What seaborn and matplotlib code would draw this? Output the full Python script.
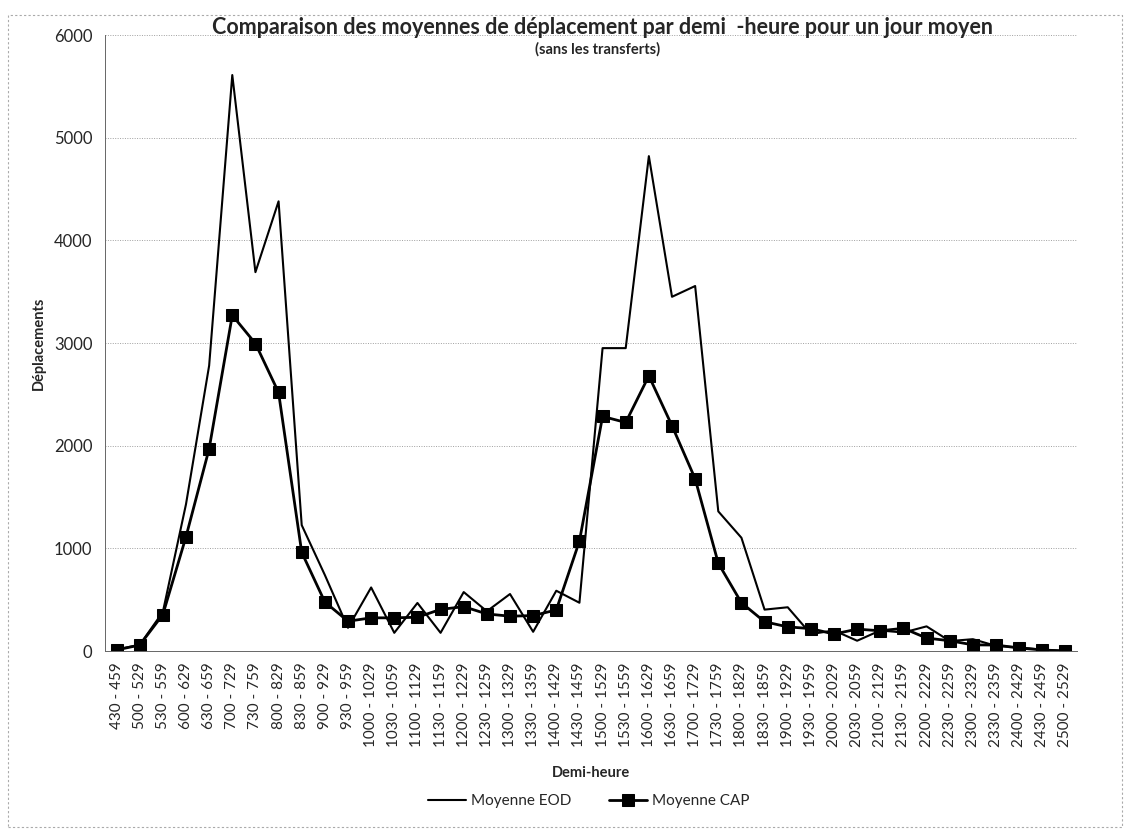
import numpy as np
import pandas as pd
import seaborn as sns
import matplotlib.pyplot as plt
from matplotlib.patches import Rectangle

# demi-heures (tranches)
starts = [430, 500, 530, 600, 630, 700, 730, 800, 830, 900, 930, 1000, 1030, 1100,
          1130, 1200, 1230, 1300, 1330, 1400, 1430, 1500, 1530, 1600, 1630, 1700,
          1730, 1800, 1830, 1900, 1930, 2000, 2030, 2100, 2130, 2200, 2230, 2300,
          2330, 2400, 2430, 2500]
labels = [f"{s} - {s + 29}" for s in starts]

moyenne_eod = [15, 60, 380, 1430, 2780, 5610, 3690, 4380, 1226, 740, 226, 619, 177, 468,
               177, 574, 387, 555, 187, 587, 470, 2950, 2950, 4820, 3450, 3555,
               1360, 1103, 403, 426, 165, 200, 100, 200, 180, 240, 97, 115,
               50, 35, 13, 0]
moyenne_cap = [10, 58, 355, 1113, 1970, 3270, 2995, 2518, 961, 477, 290, 323, 323, 329,
               405, 432, 361, 339, 345, 400, 1070, 2285, 2226, 2680, 2194, 1677,
               855, 470, 285, 235, 218, 165, 213, 197, 221, 126, 100, 60,
               58, 29, 10, 0]

df = pd.DataFrame({"pos": np.arange(len(labels)), "EOD": moyenne_eod, "CAP": moyenne_cap})

sns.set_style("white")
plt.rcParams['font.family'] = ['Lato', 'DejaVu Sans']

fig = plt.figure(figsize=(11.32, 8.31), dpi=100)
ax = fig.add_axes([105 / 1132, 1 - 651 / 831, (1077 - 105) / 1132, (651 - 35) / 831])

sns.lineplot(data=df, x="pos", y="EOD", ax=ax, color="black", linewidth=1.5,
             label="Moyenne EOD")
sns.lineplot(data=df, x="pos", y="CAP", ax=ax, color="black", linewidth=2.0,
             marker="s", markersize=8.5, markeredgecolor="black", label="Moyenne CAP")

ax.set_xlim(-0.5, len(labels) - 0.5)
ax.set_ylim(0, 6000)
ax.set_yticks(range(0, 6001, 1000))
ax.set_yticklabels([str(v) for v in range(0, 6001, 1000)], fontsize=12)
ax.set_xticks(df["pos"])
ax.set_xticklabels(labels, rotation=90, fontsize=11)
ax.set_xticks(np.arange(-0.5, len(labels), 1.0), minor=True)
ax.tick_params(axis="x", which="major", length=0, pad=8)
ax.tick_params(axis="x", which="minor", length=5, width=0.6, color="#555555", direction="out")
ax.tick_params(axis="y", length=5, width=0.6, color="#555555", direction="out", pad=4)

ax.yaxis.grid(True, color="#a0a0a0", linestyle=(0, (1, 1.5)), linewidth=0.7)
for side in ["top", "right"]:
    ax.spines[side].set_visible(False)
ax.spines["left"].set_color("#666666")
ax.spines["left"].set_linewidth(0.7)
ax.spines["bottom"].set_color("#666666")
ax.spines["bottom"].set_linewidth(0.7)

ax.set_xlabel("Demi-heure", fontsize=10.5, fontweight="bold", labelpad=14)
ax.set_ylabel("Déplacements", fontsize=10.5, fontweight="bold", labelpad=6)

fig.text(0.532, 1 - 28 / 831, "Comparaison des moyennes de déplacement par demi  -heure pour un jour moyen",
         ha="center", va="center", fontsize=15.5, fontweight="bold")
fig.text(0.528, 1 - 49 / 831, "(sans les transferts)", ha="center", va="center",
         fontsize=10.5, fontweight="bold")

ax.get_legend().remove()
fig.legend(loc="center", bbox_to_anchor=(0.52, 1 - 801 / 831), ncol=2, frameon=False,
           fontsize=11, handlelength=2.5, columnspacing=2.5, handletextpad=0.3)

fig.patches.append(Rectangle((8 / 1132, 4 / 831), 1114 / 1132, 812 / 831, transform=fig.transFigure,
                             fill=False, edgecolor="#aaaaaa", linewidth=0.8, linestyle=(0, (2, 2))))

fig.savefig("out.png", dpi=100)
